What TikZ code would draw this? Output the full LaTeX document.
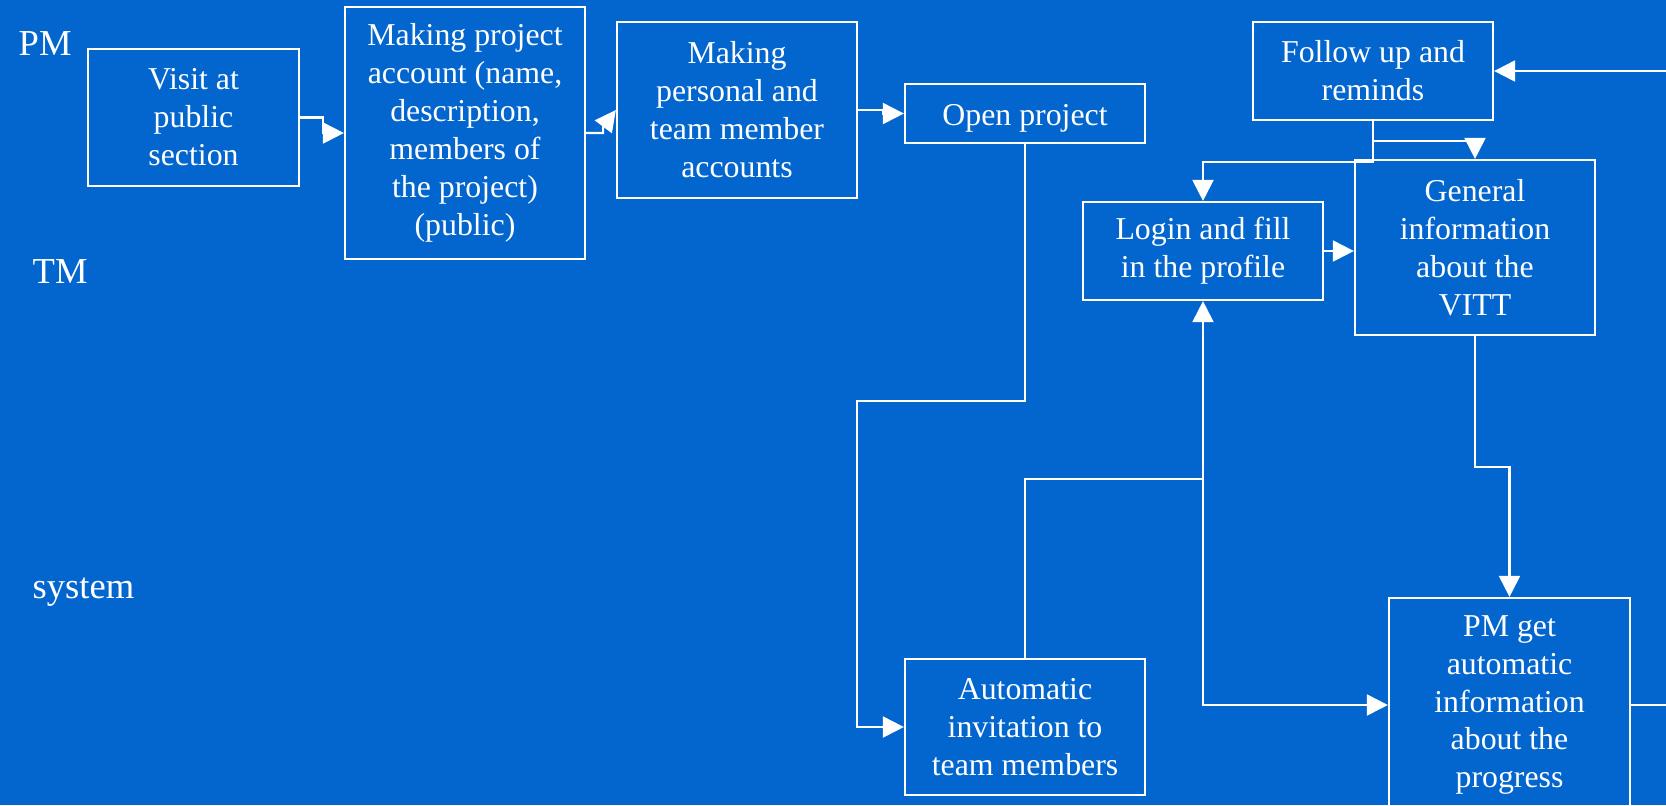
\documentclass[tikz,border=0pt]{standalone}
\usepackage{fontspec}
\setmainfont{Liberation Serif}
\usepackage{tikz}
\usetikzlibrary{arrows.meta}
\definecolor{slide}{RGB}{3,102,206}

\begin{document}
\begin{tikzpicture}[
  x=0.01cm, y=-0.01cm,
  box/.style={draw=white, line width=0.6pt, text=white, align=center, inner sep=0pt, minimum width=2.4cm, font=\fontsize{9.05}{10.8}\selectfont, execute at begin node={\rule{0pt}{8.5pt}}},
  arr/.style={-{Triangle[length=2.1mm, width=2.1mm]}, draw=white, line width=0.6pt},
  lane/.style={text=white, anchor=west, inner sep=0pt, font=\fontsize{10.4}{12}\selectfont}
]
\useasboundingbox (0,0) rectangle (1666,805);
\clip (0,0) rectangle (1666,805);
\fill[slide] (0,0) rectangle (1666,805);

% Lanes
\node[lane] (pm) at (18,44) {PM};
\node[lane] (tm) at (32,272) {TM};
\node[lane] (sys) at (32,592) {system};

% Steps
\node[box, minimum width=2.11cm, minimum height=1.37cm] (visit) at (193.5,117.5) {Visit at\\public\\section};
\node[box, minimum height=2.52cm] (account) at (465,133) {Making project\\account (name,\\description,\\members of\\the project)\\(public)};
\node[box, minimum height=1.76cm] (members) at (737,110) {Making\\personal and\\team member\\accounts};
\node[box, minimum height=0.59cm] (open) at (1025,113.5) {Open project};
\node[box, minimum height=0.98cm] (follow) at (1373,71) {Follow up and\\reminds};
\node[box, minimum height=0.98cm] (login) at (1203,251) {Login and fill\\in the profile};
\node[box, minimum height=1.75cm] (general) at (1475,247.5) {General\\information\\about the\\VITT};
\node[box, minimum height=1.36cm] (invite) at (1025,727) {Automatic\\invitation to\\team members};
\node[box, minimum width=2.41cm, minimum height=2.14cm] (progress) at (1509.5,705) {PM get\\automatic\\information\\about the\\progress};

% PM row
\draw[arr] (visit.east) -- ++(23,0) |- (account.west);
\draw[arr] (account.east) -- ++(17,0) -- ++(0,-6) -- (members.west);
\draw[arr] (members.east) -- ++(25,0) |- (open.west);

% Invitation path
\coordinate (bend) at (857,401);
\draw[arr] (open.south) |- (bend) |- (invite.west);
\coordinate (jct) at (login.south |- 0,479);
\draw[arr] (invite.north) |- (jct) -- (login.south);
\draw[arr] (jct) |- (progress.west);

% Profile and reminders
\draw[arr] (login.east) -- (login.east -| general.west);
\draw[arr] (follow.south) -- ++(0,20) -| (general.north);
\draw[arr] (follow.south) -- ++(0,41) -| (login.north);
\draw[arr] (general.south) -- ++(0,131) -| (progress.north);
\draw[arr] (progress.east) -- ++(60,0) |- (follow.east);
\end{tikzpicture}
\end{document}
